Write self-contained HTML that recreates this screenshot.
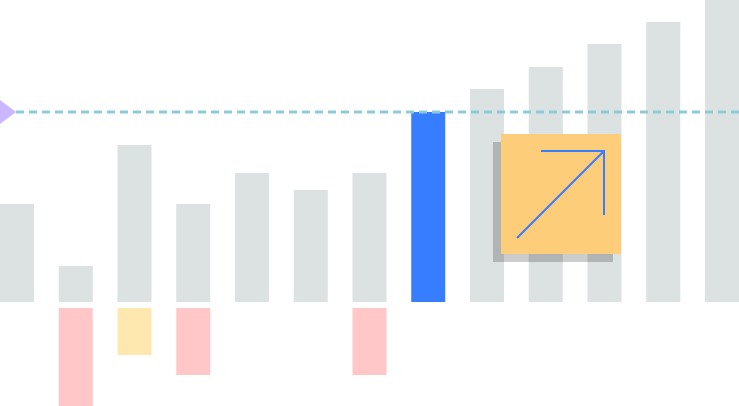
<!DOCTYPE html>
<html><head><style>body{margin:0;background:#fff;overflow:hidden}svg{display:block}</style></head>
<body>
<svg id="c" width="739" height="406" xmlns="http://www.w3.org/2000/svg"></svg>
<script>
const categories=[0,1,2,3,4,5,6,7,8,9,10,11,12];
const posValues=[98,36,157,98,129,112,129,190,213,235,258,280,302];
const negValues=[0,98,47,67,0,0,67,0,0,0,0,0,0];
const negColors=["","#ffc7c7","#ffe8b0","#ffc7c7","","","#ffc7c7","","","","","",""];
const highlightIndex=7;
const targetValue=190;
const svg=document.getElementById('c');
const NS='http://www.w3.org/2000/svg';
const base=302, negBase=308, pitch=58.75, bw=34;
const xs=i=>i*pitch;
const yPos=v=>base-v;
function mk(t,a,name){const e=document.createElementNS(NS,t);for(const k in a)e.setAttribute(k,a[k]);


svg.appendChild(e);return e;}
categories.forEach(i=>{
  mk('rect',{x:xs(i),y:yPos(posValues[i]),width:bw,height:posValues[i],fill:i===highlightIndex?'#377dff':'#dce1e2'},'bar-'+i);
  if(negValues[i]>0) mk('rect',{x:xs(i),y:negBase,width:bw,height:negValues[i],fill:negColors[i]},'negative-bar-'+i);
});
mk('line',{x1:16,y1:yPos(targetValue),x2:739,y2:yPos(targetValue),stroke:'#8ecbd8','stroke-width':3,'stroke-dasharray':'8 5'},'target-line');
mk('polygon',{points:`0,${yPos(targetValue)-12} 16,${yPos(targetValue)} 0,${yPos(targetValue)+12}`,fill:'#c9b8ff'},'target-marker');
mk('rect',{x:493,y:142,width:120,height:120,fill:'rgba(0,0,0,0.2)'},'box-shadow');
mk('rect',{x:501,y:134,width:120,height:120,fill:'#fdcd7a'},'growth-box');
mk('line',{x1:517,y1:238,x2:604,y2:151,stroke:'#377dff','stroke-width':2},'arrow-shaft');
mk('polyline',{points:'541,151 604,151 604,215',fill:'none',stroke:'#377dff','stroke-width':2},'arrow-head');
</script>
</body></html>
